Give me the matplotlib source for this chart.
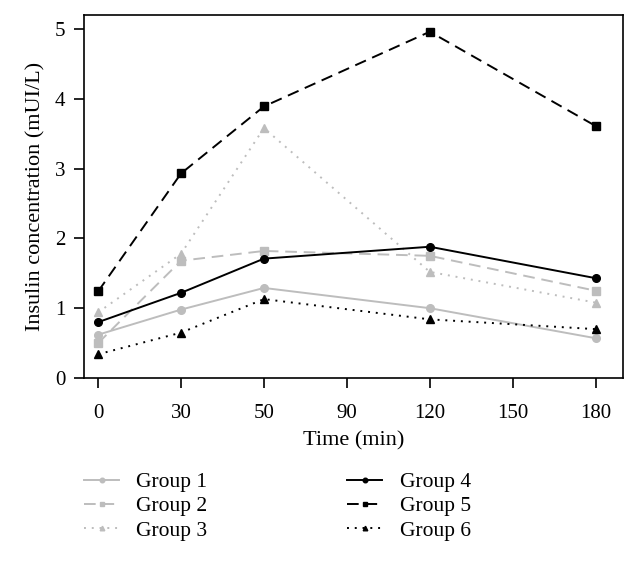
import matplotlib
matplotlib.use("Agg")
import matplotlib.pyplot as plt

plt.rcParams['font.family'] = ['Liberation Serif', 'DejaVu Serif']

tick_labels = ["0", "30", "50", "90", "120", "150", "180"]
sample_times = ["0", "30", "50", "120", "180"]
group1 = [0.62, 0.98, 1.29, 1.00, 0.57]
group2 = [0.50, 1.68, 1.82, 1.75, 1.25]
group3 = [0.94, 1.78, 3.58, 1.52, 1.08]
group4 = [0.80, 1.22, 1.71, 1.88, 1.43]
group5 = [1.24, 2.93, 3.89, 4.96, 3.61]
group6 = [0.34, 0.65, 1.13, 0.84, 0.70]
names = ["Group 1", "Group 2", "Group 3", "Group 4", "Group 5", "Group 6"]

gray = "#bdbdbd"
styles = [
    dict(color=gray, ls="-", marker="o"),
    dict(color=gray, ls=(0, (6, 3.5)), marker="s"),
    dict(color=gray, ls=(0, (1, 3)), marker="^"),
    dict(color="black", ls="-", marker="o"),
    dict(color="black", ls=(0, (6, 3.5)), marker="s"),
    dict(color="black", ls=(0, (1, 3)), marker="^"),
]

fig = plt.figure(figsize=(6.38, 5.61), dpi=100)
ax = fig.add_axes([0.1317, 0.3262, 0.9765 - 0.1317, 0.9733 - 0.3262])

xpos = [tick_labels.index(t) for t in sample_times]
handles = []
for data, name, st in zip([group1, group2, group3, group4, group5, group6], names, styles):
    h, = ax.plot(xpos, data, color=st["color"], linestyle=st["ls"], marker=st["marker"],
                 markersize=5.5, linewidth=1.4, label=name)
    handles.append(h)

ax.set_xlim(-0.17, 6.33)
ax.set_ylim(0, 5.2)
ax.set_xticks(range(len(tick_labels)))
ax.set_xticklabels(tick_labels)
ax.set_yticks([0, 1, 2, 3, 4, 5])
ax.tick_params(axis='both', direction='out', length=7.5, width=1.2, labelsize=15)
ax.tick_params(axis='x', pad=11)
ax.tick_params(axis='y', pad=6)
for s in ax.spines.values():
    s.set_linewidth(1.2)
ax.set_xlabel("Time (min)", fontsize=16, labelpad=6)
ax.set_ylabel("Insulin concentration (mUI/L)", fontsize=16, labelpad=7)

leg = fig.legend(handles=handles, ncol=2, loc="upper left",
                 bbox_to_anchor=(84 / 638, 1 - 472 / 561), borderaxespad=0, borderpad=0,
                 frameon=False, fontsize=15.5, handlelength=1.63, columnspacing=6.5,
                 labelspacing=0.2, markerscale=0.6, handletextpad=0.8)

fig.savefig("out.png", dpi=100)
